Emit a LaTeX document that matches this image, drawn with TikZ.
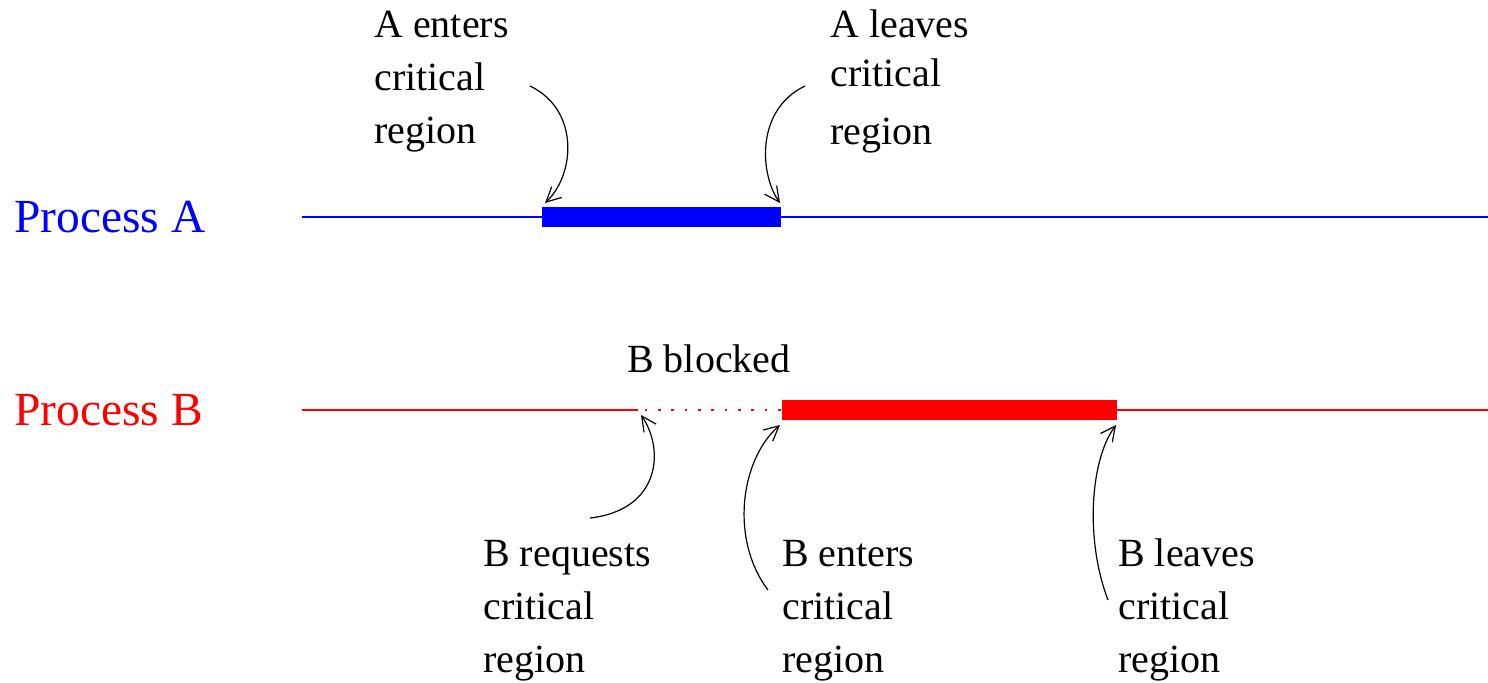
\documentclass[tikz,border=0pt]{standalone}
\usepackage{fontspec}
\setmainfont{Liberation Serif}
\usetikzlibrary{arrows.meta}
\begin{document}
\begin{tikzpicture}[x=0.75pt,y=-0.75pt,
  lbl/.style={anchor=base west,inner sep=0pt,font=\fontsize{30}{36}\selectfont},
  proc/.style={anchor=base west,inner sep=0pt,font=\fontsize{35.6}{40}\selectfont},
  thinline/.style={line width=1.5pt},
  bar/.style={line width=15pt},
  pointer/.style={line width=0.9pt,-{Straight Barb[length=11pt,width=11pt]}}]
\useasboundingbox (0,0) rectangle (1488,682);
% process labels
\node[proc,text=blue] (pa) at (14,232) {Process A};
\node[proc,text=red] (pb) at (14,425) {Process B};
% timeline A
\coordinate (a0) at (302,217);
\coordinate (a1) at (542,217);
\coordinate (a2) at (781,217);
\coordinate (a3) at (1488,217);
\draw[blue,thinline] (a0) -- (a1);
\draw[blue,bar] (a1) -- (a2);
\draw[blue,thinline] (a2) -- (a3);
% timeline B
\coordinate (b0) at (302,410);
\coordinate (b1) at (638,410);
\coordinate (b2) at (782,410);
\coordinate (b3) at (1117,410);
\coordinate (b4) at (1488,410);
\draw[red,thinline] (b0) -- (b1);
\draw[red,line width=2pt,dash pattern=on 2pt off 8pt] ([xshift=5pt]b1) -- (b2);
\draw[red,bar] (b2) -- (b3);
\draw[red,thinline] (b3) -- (b4);
% labels
\node[lbl] (ae1) at (374,37) {A enters};
\node[lbl] (ae2) at (374,90) {critical};
\node[lbl] (ae3) at (374,143) {region};
\node[lbl] (al1) at (830,37) {A leaves};
\node[lbl] (al2) at (830,86) {critical};
\node[lbl] (al3) at (830,144) {region};
\node[lbl] (bb) at (627,372) {B blocked};
\node[lbl] (br1) at (483,566) {B requests};
\node[lbl] (br2) at (483,619) {critical};
\node[lbl] (br3) at (483,672) {region};
\node[lbl] (be1) at (782,566) {B enters};
\node[lbl] (be2) at (782,619) {critical};
\node[lbl] (be3) at (782,672) {region};
\node[lbl] (bl1) at (1118,566) {B leaves};
\node[lbl] (bl2) at (1118,619) {critical};
\node[lbl] (bl3) at (1118,672) {region};
% pointers
\coordinate (pae) at (530,86);
\coordinate (tae) at (545,203);
\coordinate (pal) at (805,86);
\coordinate (tal) at (780,203);
\coordinate (pbr) at (590,518);
\coordinate (tbr) at (641,415);
\coordinate (pbe) at (768,590);
\coordinate (tbe) at (780,425);
\coordinate (pbl) at (1108,600);
\coordinate (tbl) at (1116,425);
\draw[pointer] (pae) .. controls (580,110) and (575,175) .. (tae);
\draw[pointer] (pal) .. controls (755,110) and (760,175) .. (tal);
\draw[pointer] (pbr) .. controls (660,510) and (665,450) .. (tbr);
\draw[pointer] (pbe) .. controls (730,540) and (740,460) .. (tbe);
\draw[pointer] (pbl) .. controls (1085,540) and (1090,460) .. (tbl);
\end{tikzpicture}
\end{document}
